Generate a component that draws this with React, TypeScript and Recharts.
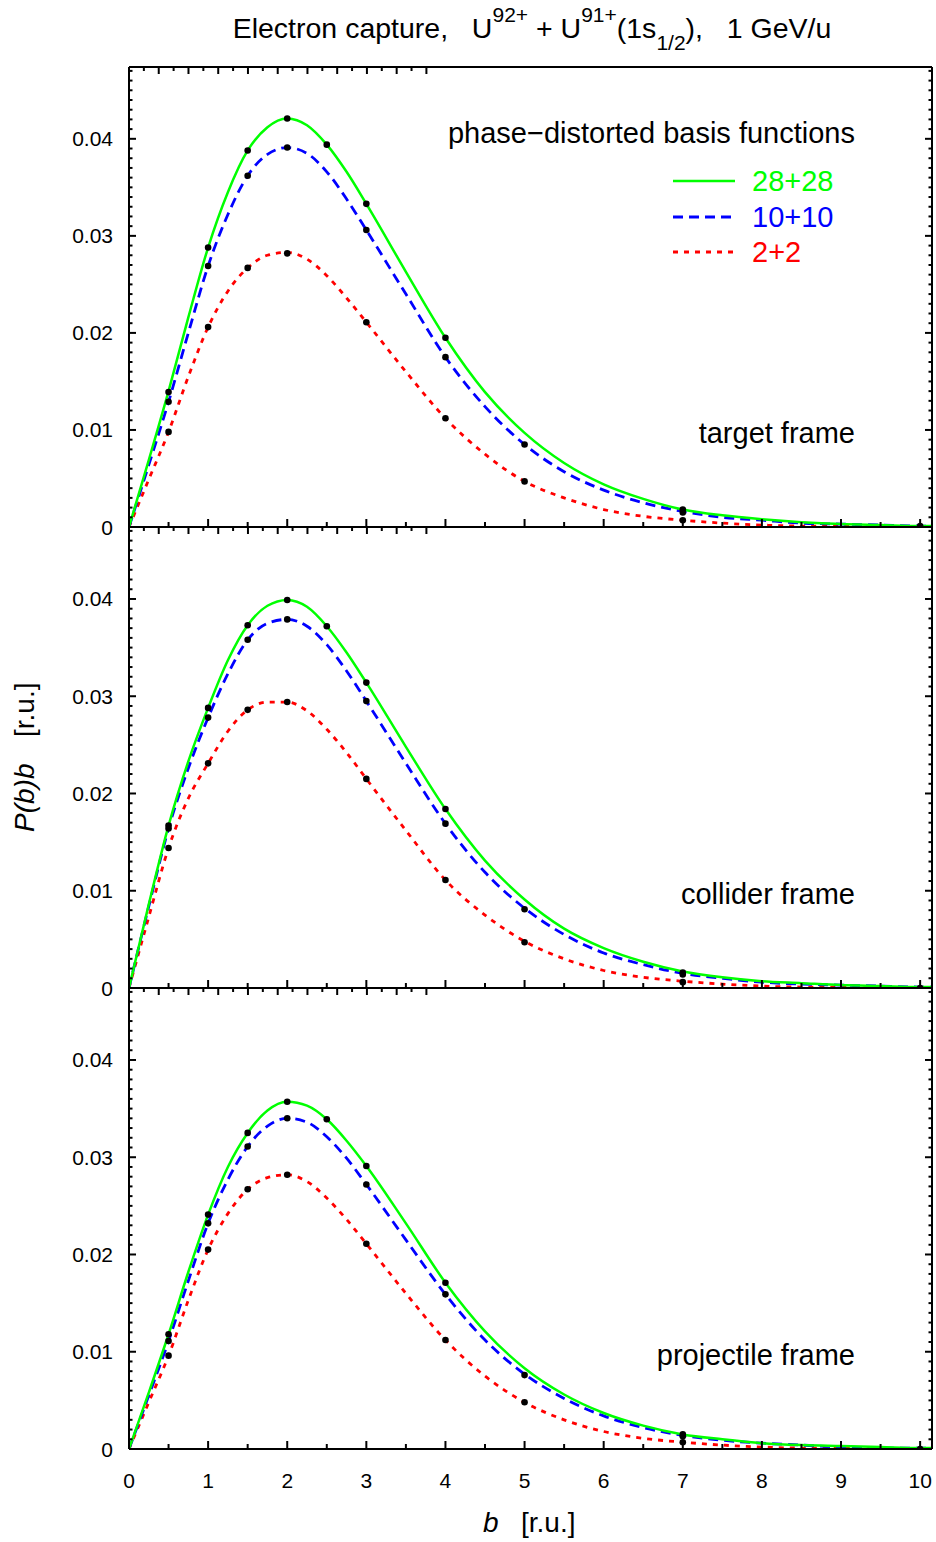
import React from 'react';
import { ComposedChart, Line, Scatter, XAxis, YAxis } from 'recharts';

// impact parameter grid (r.u.)
const B = [0, 0.25, 0.5, 0.75, 1, 1.25, 1.5, 1.75, 2, 2.25, 2.5, 2.75, 3, 3.5, 4, 4.5, 5, 5.5, 6, 6.5, 7, 7.5, 8, 8.5, 9, 9.5, 10, 10.15];

// target frame
const TARGET_28 = [0, 0.0069, 0.0140, 0.0216, 0.0288, 0.0345, 0.0388, 0.0412, 0.0421, 0.0414, 0.0394, 0.0366, 0.0333, 0.0263, 0.0195, 0.0139, 0.0097, 0.0066, 0.0044, 0.0029, 0.0018, 0.0012, 0.0008, 0.0005, 0.0003, 0.0002, 0.0001, 0.0001];
const TARGET_10 = [0, 0.0064, 0.0129, 0.0200, 0.0269, 0.0322, 0.0362, 0.0384, 0.0391, 0.0385, 0.0366, 0.0338, 0.0306, 0.0240, 0.0175, 0.0124, 0.0085, 0.0057, 0.0038, 0.0025, 0.0016, 0.0010, 0.0007, 0.0004, 0.0003, 0.0002, 0.0001, 0.0001];
const TARGET_2 = [0, 0.0049, 0.0098, 0.0155, 0.0206, 0.0243, 0.0267, 0.0280, 0.0283, 0.0276, 0.0259, 0.0236, 0.0211, 0.0160, 0.0112, 0.0075, 0.0047, 0.0030, 0.0018, 0.0011, 0.0007, 0.0004, 0.0002, 0.0001, 0.0001, 0, 0, 0];

// collider frame
const COLLIDER_28 = [0, 0.0086, 0.0167, 0.0233, 0.0288, 0.0337, 0.0373, 0.0393, 0.0399, 0.0392, 0.0372, 0.0345, 0.0314, 0.0248, 0.0184, 0.0131, 0.0091, 0.0061, 0.0041, 0.0027, 0.0017, 0.0011, 0.0007, 0.0005, 0.0003, 0.0002, 0.0001, 0.0001];
const COLLIDER_10 = [0, 0.0084, 0.0164, 0.0226, 0.0278, 0.0323, 0.0358, 0.0375, 0.0379, 0.0372, 0.0353, 0.0326, 0.0295, 0.0231, 0.0169, 0.0119, 0.0082, 0.0055, 0.0036, 0.0024, 0.0015, 0.0010, 0.0006, 0.0004, 0.0003, 0.0002, 0.0001, 0.0001];
const COLLIDER_2 = [0, 0.0073, 0.0144, 0.0195, 0.0231, 0.0264, 0.0286, 0.0294, 0.0294, 0.0285, 0.0266, 0.0242, 0.0215, 0.0162, 0.0111, 0.0075, 0.0048, 0.0030, 0.0018, 0.0011, 0.0007, 0.0004, 0.0002, 0.0001, 0.0001, 0, 0, 0];

// projectile frame
const PROJECTILE_28 = [0, 0.0058, 0.0118, 0.0182, 0.0241, 0.0290, 0.0325, 0.0348, 0.0357, 0.0353, 0.0339, 0.0317, 0.0291, 0.0232, 0.0171, 0.0121, 0.0083, 0.0056, 0.0037, 0.0024, 0.0015, 0.0010, 0.0006, 0.0004, 0.0003, 0.0002, 0.0001, 0.0001];
const PROJECTILE_10 = [0, 0.0055, 0.0111, 0.0173, 0.0232, 0.0277, 0.0311, 0.0332, 0.0340, 0.0336, 0.0321, 0.0299, 0.0272, 0.0215, 0.0159, 0.0112, 0.0077, 0.0052, 0.0034, 0.0022, 0.0014, 0.0009, 0.0006, 0.0004, 0.0002, 0.0001, 0.0001, 0.0001];
const PROJECTILE_2 = [0, 0.0048, 0.0096, 0.0153, 0.0205, 0.0242, 0.0267, 0.0279, 0.0282, 0.0275, 0.0258, 0.0236, 0.0211, 0.0160, 0.0112, 0.0075, 0.0048, 0.0030, 0.0018, 0.0011, 0.0007, 0.0004, 0.0002, 0.0001, 0.0001, 0, 0, 0];

// reference points (black dots)
const DOT_B = [0.5, 0.5, 0.5, 1, 1, 1, 1.5, 1.5, 1.5, 2, 2, 2, 2.5, 3, 3, 3, 4, 4, 4, 5, 5, 7, 7, 7, 10];
const TARGET_DOTS = [0.0139, 0.0129, 0.0098, 0.0288, 0.0269, 0.0206, 0.0388, 0.0362, 0.0267, 0.0421, 0.0391, 0.0282, 0.0394, 0.0333, 0.0306, 0.0211, 0.0195, 0.0175, 0.0112, 0.0085, 0.0047, 0.0018, 0.0015, 0.0007, 0.0001];
const COLLIDER_DOTS = [0.0167, 0.0164, 0.0144, 0.0288, 0.0278, 0.0231, 0.0373, 0.0358, 0.0286, 0.0399, 0.0379, 0.0294, 0.0372, 0.0314, 0.0295, 0.0215, 0.0184, 0.0169, 0.0111, 0.0081, 0.0047, 0.0016, 0.0014, 0.0006, 0.0000];
const PROJECTILE_DOTS = [0.0118, 0.0111, 0.0096, 0.0241, 0.0232, 0.0205, 0.0325, 0.0311, 0.0267, 0.0357, 0.0340, 0.0282, 0.0339, 0.0291, 0.0272, 0.0211, 0.0171, 0.0159, 0.0112, 0.0076, 0.0048, 0.0015, 0.0013, 0.0007, 0.0000];

const X_TICKS = [0, 0.5, 1, 1.5, 2, 2.5, 3, 3.5, 4, 4.5, 5, 5.5, 6, 6.5, 7, 7.5, 8, 8.5, 9, 9.5, 10];
const Y_MAJOR = [0, 0.01, 0.02, 0.03, 0.04];
const Y_MAJOR_LABELS = ['0', '0.01', '0.02', '0.03', '0.04'];
const Y_TICKS = Array.from({ length: 48 }, (_, i) => +(i * 0.001).toFixed(3));

const SERIES_NAMES = ['28+28', '10+10', '2+2'];
const FRAME_NAMES = ['target frame', 'collider frame', 'projectile frame'];

const COLORS = ['#00ff00', '#0000ff', '#ff0000'];
const DASHES = [undefined, '10 6', '5 6'];
const WIDTHS = [2.5, 2.8, 2.8];

const W = 936;
const H = 1542;
const LEFT = 129;
const RIGHT = 4;
const PANELS = [
  { top: 67, bottom: 527 },
  { top: 527, bottom: 988 },
  { top: 988, bottom: 1449 },
];
const X_DOMAIN = [0, 10.15];
const Y_DOMAIN = [0, 0.0474];
const FONT = "'Liberation Sans', Arial, Helvetica, sans-serif";

const isMajorX = (v: number) => Math.abs(v - Math.round(v)) < 1e-6;
const majorYIndex = (v: number) => Y_MAJOR.findIndex((m) => Math.abs(m - v) < 1e-7);

const makeBottomTick = (labels: boolean) => (props: any) => {
  const { x, payload } = props;
  const y = props.y - 1;
  const v = payload.value;
  const major = isMajorX(v);
  return (
    <g>
      <line x1={x} y1={y} x2={x} y2={y - (major ? 7 : 4)} stroke="#000" strokeWidth={2} />
      {labels && major ? (
        <text x={x} y={y + 40} textAnchor="middle" fontSize={21} fontFamily={FONT} fill="#000">
          {String(v)}
        </text>
      ) : null}
    </g>
  );
};

const topTick = (props: any) => {
  const { x, y, payload } = props;
  const major = isMajorX(payload.value);
  return <line x1={x} y1={y} x2={x} y2={y + (major ? 7 : 4)} stroke="#000" strokeWidth={2} />;
};

const leftTick = (props: any) => {
  const { x, y, payload } = props;
  const mi = majorYIndex(payload.value);
  const major = mi >= 0;
  return (
    <g>
      <line x1={x} y1={y} x2={x + (major ? 7 : 3.5)} y2={y} stroke="#000" strokeWidth={2} />
      {major ? (
        <text x={x - 16} y={y + 7.5} textAnchor="end" fontSize={21} fontFamily={FONT} fill="#000">
          {Y_MAJOR_LABELS[mi]}
        </text>
      ) : null}
    </g>
  );
};

const rightTick = (props: any) => {
  const { x, y, payload } = props;
  const major = majorYIndex(payload.value) >= 0;
  return <line x1={x} y1={y} x2={x - (major ? 7 : 3.5)} y2={y} stroke="#000" strokeWidth={2} />;
};

const dotShape = (p: any) => <circle cx={p.cx} cy={p.cy} r={3.3} fill="#000" />;

type PanelProps = {
  idx: number;
  curves: number[][];
  dots: number[];
  labels: boolean;
};

function Panel({ idx, curves, dots, labels }: PanelProps) {
  const { top, bottom } = PANELS[idx];
  const table = B.map((b, i) => ({ b, s0: curves[0][i], s1: curves[1][i], s2: curves[2][i] }));
  const dotData = DOT_B.map((b, i) => ({ b, p: dots[i] }));
  const axisLine = { stroke: '#000', strokeWidth: 2 };
  return (
    <ComposedChart
      width={W}
      height={H}
      data={table}
      margin={{ top: top - 1, bottom: H - bottom - 1, left: LEFT - 1, right: RIGHT - 1 }}
      style={{ position: 'absolute', top: 0, left: 0 }}
    >
      <XAxis
        xAxisId="bx"
        dataKey="b"
        type="number"
        domain={X_DOMAIN}
        allowDataOverflow
        ticks={X_TICKS}
        interval={0}
        height={1}
        tickSize={0}
        tickMargin={0}
        tickLine={false}
        axisLine={axisLine}
        tick={makeBottomTick(labels)}
      />
      <XAxis
        xAxisId="tx"
        orientation="top"
        type="number"
        domain={X_DOMAIN}
        allowDataOverflow
        ticks={X_TICKS}
        interval={0}
        height={1}
        tickSize={0}
        tickMargin={0}
        tickLine={false}
        axisLine={axisLine}
        tick={topTick}
      />
      <YAxis
        yAxisId="ly"
        type="number"
        domain={Y_DOMAIN}
        allowDataOverflow
        ticks={Y_TICKS}
        interval={0}
        width={1}
        tickSize={0}
        tickMargin={0}
        tickLine={false}
        axisLine={axisLine}
        tick={leftTick}
      />
      <YAxis
        yAxisId="ry"
        orientation="right"
        type="number"
        domain={Y_DOMAIN}
        allowDataOverflow
        ticks={Y_TICKS}
        interval={0}
        width={1}
        tickSize={0}
        tickMargin={0}
        tickLine={false}
        axisLine={axisLine}
        tick={rightTick}
      />
      {[2, 1, 0].map((k) => (
        <Line
          key={k}
          xAxisId="bx"
          yAxisId="ly"
          type="monotone"
          dataKey={`s${k}`}
          stroke={COLORS[k]}
          strokeWidth={WIDTHS[k]}
          strokeDasharray={DASHES[k]}
          dot={false}
          activeDot={false}
          isAnimationActive={false}
        />
      ))}
      <Scatter
        xAxisId="bx"
        yAxisId="ly"
        data={dotData}
        dataKey="p"
        shape={dotShape}
        isAnimationActive={false}
      />
    </ComposedChart>
  );
}

function Overlay() {
  const legendY = [181, 217, 252];
  const frameBaselines = [443, 904, 1365];
  return (
    <svg
      width={W}
      height={H}
      style={{ position: 'absolute', top: 0, left: 0, pointerEvents: 'none' }}
      fontFamily={FONT}
    >
      <text x={532} y={38} textAnchor="middle" fontSize={28.5} fill="#000" style={{ whiteSpace: 'pre' }}>
        <tspan>{'Electron capture,   U'}</tspan>
        <tspan fontSize={21} dy={-16}>92+</tspan>
        <tspan dy={16}>{' + U'}</tspan>
        <tspan fontSize={21} dy={-16}>91+</tspan>
        <tspan dy={16}>(1s</tspan>
        <tspan fontSize={21} dy={12}>1/2</tspan>
        <tspan dy={-12}>{'),   1 GeV/u'}</tspan>
      </text>

      <text x={855} y={143} textAnchor="end" fontSize={29} fill="#000">
        phase−distorted basis functions
      </text>
      {SERIES_NAMES.map((n, k) => (
        <g key={n}>
          <line
            x1={673}
            x2={735}
            y1={legendY[k]}
            y2={legendY[k]}
            stroke={COLORS[k]}
            strokeWidth={WIDTHS[k]}
            strokeDasharray={DASHES[k]}
          />
          <text x={752} y={legendY[k] + 10} fontSize={29} fill={COLORS[k]}>
            {n}
          </text>
        </g>
      ))}

      {FRAME_NAMES.map((n, i) => (
        <text key={n} x={855} y={frameBaselines[i]} textAnchor="end" fontSize={29} fill="#000">
          {n}
        </text>
      ))}

      <text x={483} y={1532} fontSize={28} fontStyle="italic" fill="#000">b</text>
      <text x={521} y={1532} fontSize={28} fill="#000">[r.u.]</text>

      <text transform="translate(34,832) rotate(-90)" fontSize={28} fontStyle="italic" fill="#000">P(b)b</text>
      <text transform="translate(34,737) rotate(-90)" fontSize={28} fill="#000">[r.u.]</text>
    </svg>
  );
}

export default function App() {
  return (
    <div style={{ position: 'absolute', top: 0, left: 0, width: W, height: H, background: '#fff' }}>
      <Panel idx={0} curves={[TARGET_28, TARGET_10, TARGET_2]} dots={TARGET_DOTS} labels={false} />
      <Panel idx={1} curves={[COLLIDER_28, COLLIDER_10, COLLIDER_2]} dots={COLLIDER_DOTS} labels={false} />
      <Panel idx={2} curves={[PROJECTILE_28, PROJECTILE_10, PROJECTILE_2]} dots={PROJECTILE_DOTS} labels={true} />
      <Overlay />
    </div>
  );
}
